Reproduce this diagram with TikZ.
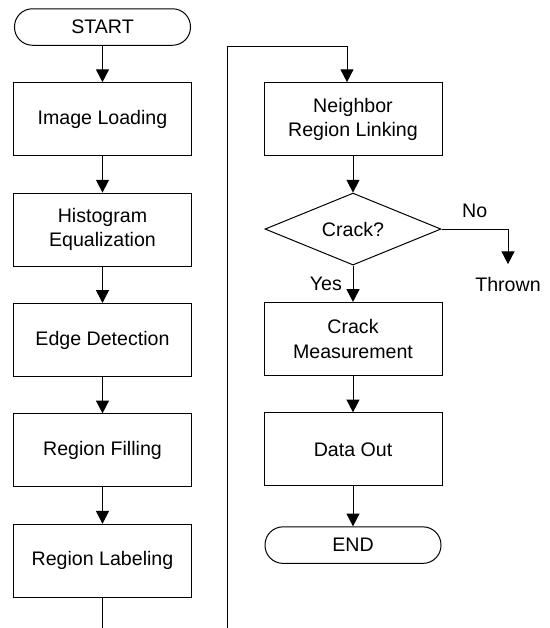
\documentclass[tikz,border=0pt]{standalone}
\usepackage{fontspec}
\setmainfont{Liberation Sans}
\usetikzlibrary{arrows.meta, positioning, shapes.geometric, calc}

\tikzset{
  stepbox/.style={draw, rectangle, minimum width=89pt, minimum height=36.5pt, align=center, inner sep=2pt},
  termbox/.style={draw, rectangle, rounded corners=9pt, minimum width=88pt, minimum height=18.25pt, inner sep=0pt},
  decide/.style={draw, diamond, aspect=2.4, minimum width=88pt, minimum height=36pt, inner sep=0pt},
  flow/.style={-{Triangle[length=6.4pt, width=6.5pt]}},
}

\begin{document}
\begin{tikzpicture}[font=\fontsize{9.8}{12.2}\selectfont, node distance=18.2pt, line width=0.5pt]
  \useasboundingbox (-51.25pt,13.5pt) rectangle (223.75pt,-300.5pt);

  % first column of steps
  \node[termbox] (start) at (0,0) {START};
  \node[stepbox, below=of start] (load) {Image Loading};
  \node[stepbox, below=of load] (histo) {Histogram\\Equalization};
  \node[stepbox, below=of histo] (edgedet) {Edge Detection};
  \node[stepbox, below=of edgedet] (filling) {Region Filling};
  \node[stepbox, below=of filling] (labeling) {Region Labeling};

  % second column, next to the first one
  \node[stepbox] (link) at ([xshift=125.25pt]load) {Neighbor\\Region Linking};
  \node[decide, below=of link] (crack) {Crack?};
  \node[stepbox, below=of crack] (measure) {Crack\\Measurement};
  \node[stepbox, below=of measure] (dataout) {Data Out};
  \node[termbox, below=20pt of dataout] (stop) {END};
  \node[inner sep=0pt] (thrown) at ([xshift=77.5pt, yshift=-27.8pt]crack) {Thrown};

  % arrows down the first column
  \draw[flow] (start) -- (load);
  \draw[flow] (load) -- (histo);
  \draw[flow] (histo) -- (edgedet);
  \draw[flow] (edgedet) -- (filling);
  \draw[flow] (filling) -- (labeling);

  % go round from the bottom to the top of the second column
  \coordinate (bus) at ($(labeling.east)!.5!(link.west)$);
  \coordinate (entry) at ([xshift=-3pt, yshift=18pt]link.north);
  \draw[flow] (labeling.south) -- ++(0,-30pt) -| (bus |- entry) -- (entry) -- (entry |- link.north);

  % arrows down the second column
  \draw[flow] (link) -- (crack);
  \draw[flow] (crack) -- (measure) node[pos=.5, left=2pt]{Yes};
  \draw[flow, shorten >=6.4pt] (crack.east) -| (thrown.north) node[pos=.25, above=2pt]{No};
  \draw[flow] (measure) -- (dataout);
  \draw[flow] (dataout) -- (stop);

\end{tikzpicture}
\end{document}
